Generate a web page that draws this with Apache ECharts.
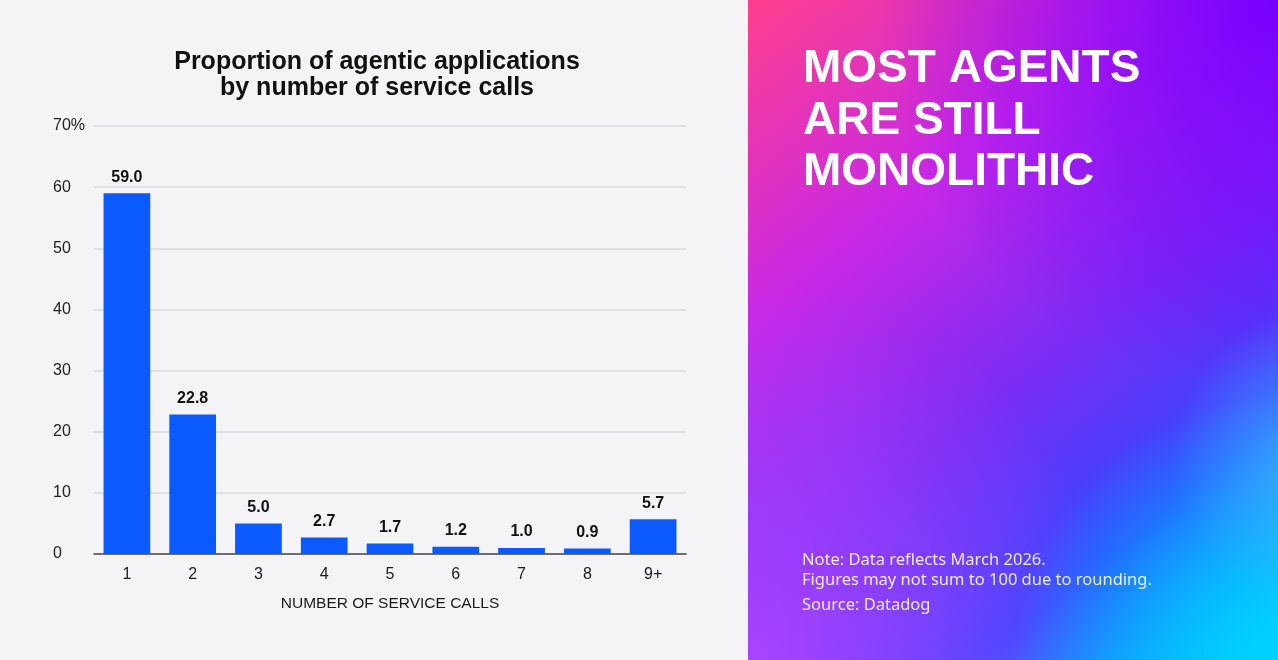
<!DOCTYPE html>
<html>
<head>
<meta charset="utf-8">
<script src="https://cdn.jsdelivr.net/npm/echarts@6/dist/echarts.min.js"></script>
<style>
  html, body { margin: 0; padding: 0; background: #f4f4f6; }
  #chart { width: 1278px; height: 660px; }
</style>
</head>
<body>
<div id="chart"></div>
<script>
// data
var categories = ['1', '2', '3', '4', '5', '6', '7', '8', '9+'];
var shares = [59.0, 22.8, 5.0, 2.7, 1.7, 1.2, 1.0, 0.9, 5.7];
var yTicks = [0, 10, 20, 30, 40, 50, 60, 70];

var chartTitle = 'Proportion of agentic applications\nby number of service calls';
var headline = 'MOST AGENTS\nARE STILL\nMONOLITHIC';
var noteLines = 'Note: Data reflects March 2026.\nFigures may not sum to 100 due to rounding.';
var sourceLine = 'Source: Datadog';

var Chart = echarts.init(document.getElementById('chart'));

// right hand panel, gradient built from a few stacked layers
var panel = { x: 748, y: 0, width: 530, height: 660 };
function layer(fill) {
  return { type: 'rect', shape: panel, style: { fill: fill }, silent: true };
}

var option = {
  backgroundColor: '#f4f4f6',
  animation: false,
  title: {
    text: chartTitle,
    left: 372,
    top: 44,
    textAlign: 'center',
    textStyle: {
      fontFamily: 'Liberation Sans',
      fontSize: 25,
      fontWeight: 'bold',
      lineHeight: 26,
      color: '#111'
    }
  },
  grid: { left: 94, right: 592, top: 126, bottom: 106 },
  xAxis: {
    type: 'category',
    data: categories,
    name: 'NUMBER OF SERVICE CALLS',
    nameLocation: 'middle',
    nameGap: 42,
    nameTextStyle: { fontFamily: 'Liberation Sans', fontSize: 15.5, color: '#1a1a1a' },
    axisLine: { lineStyle: { color: '#4a4a4a', width: 1.5 } },
    axisTick: { show: false },
    axisLabel: { margin: 13, fontFamily: 'Liberation Sans', fontSize: 16, color: '#1a1a1a' }
  },
  yAxis: {
    type: 'value',
    min: yTicks[0],
    max: yTicks[yTicks.length - 1],
    interval: 10,
    axisLine: { show: false },
    axisTick: { show: false },
    splitLine: { lineStyle: { color: '#d9d9df', width: 1.5 } },
    axisLabel: {
      align: 'left',
      margin: 41,
      fontFamily: 'Liberation Sans',
      fontSize: 16,
      color: '#222',
      formatter: function (v) { return v === 70 ? v + '%' : v; }
    }
  },
  series: [{
    type: 'bar',
    data: shares,
    barWidth: '71%',
    itemStyle: { color: '#0a5aff' },
    label: {
      show: true,
      position: 'top',
      distance: 8,
      fontFamily: 'Liberation Sans',
      fontSize: 16,
      fontWeight: 'bold',
      color: '#111',
      formatter: function (p) { return p.value.toFixed(1); }
    }
  }],
  graphic: [
    layer(new echarts.graphic.LinearGradient(0, 0, 1, 1, [
      { offset: 0, color: '#ff3f8c' },
      { offset: 0.3, color: '#c828e6' },
      { offset: 0.55, color: '#7a2cf4' },
      { offset: 0.78, color: '#2f48ff' },
      { offset: 1, color: '#00c8ff' }
    ])),
    layer(new echarts.graphic.RadialGradient(1, 0, 0.75, [
      { offset: 0, color: 'rgba(120,0,255,1)' },
      { offset: 1, color: 'rgba(120,0,255,0)' }
    ])),
    layer(new echarts.graphic.RadialGradient(0, 1, 0.7, [
      { offset: 0, color: 'rgba(168,68,255,1)' },
      { offset: 1, color: 'rgba(168,68,255,0)' }
    ])),
    layer(new echarts.graphic.RadialGradient(1, 1, 0.5, [
      { offset: 0, color: 'rgba(0,210,255,1)' },
      { offset: 1, color: 'rgba(0,210,255,0)' }
    ])),
    layer(new echarts.graphic.RadialGradient(1.1, 0.7, 0.3, [
      { offset: 0, color: 'rgba(70,190,255,0.8)' },
      { offset: 1, color: 'rgba(70,190,255,0)' }
    ])),
    {
      type: 'text',
      left: 803,
      top: 44,
      style: {
        text: headline,
        fill: '#fff',
        font: 'bold 46px "Liberation Sans"',
        lineHeight: 51.5
      }
    },
    {
      type: 'text',
      left: 802,
      top: 550,
      style: {
        text: noteLines,
        fill: 'rgba(255,255,255,0.88)',
        font: '16.5px "Noto Sans"',
        lineHeight: 20
      }
    },
    {
      type: 'text',
      left: 802,
      top: 595,
      style: {
        text: sourceLine,
        fill: 'rgba(255,255,255,0.88)',
        font: '16.5px "Noto Sans"',
        lineHeight: 20
      }
    }
  ]
};

Chart.setOption(option);
</script>
</body>
</html>
